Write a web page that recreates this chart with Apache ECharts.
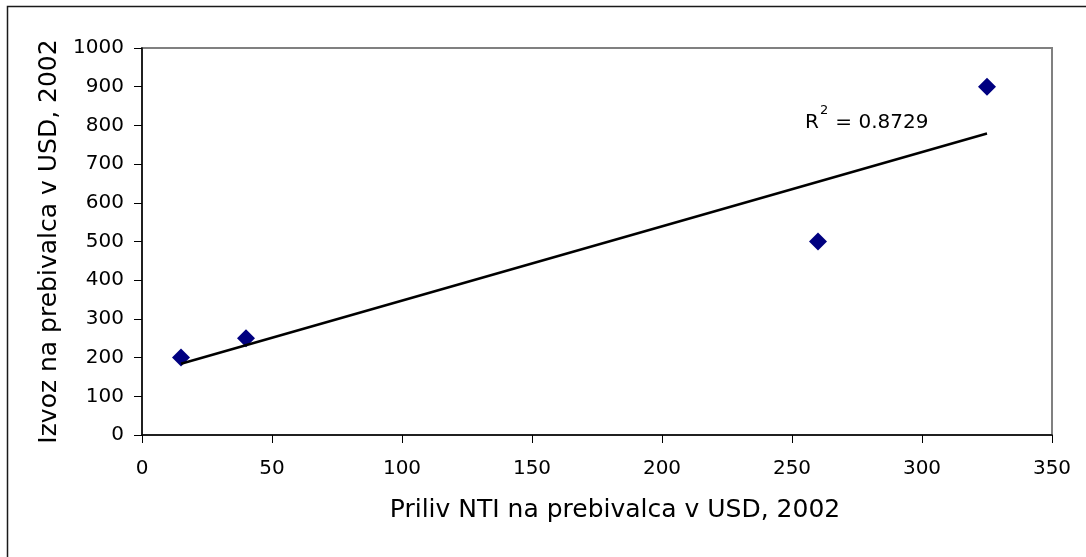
<!DOCTYPE html>
<html>
<head>
<meta charset="utf-8">
<script src="https://cdn.jsdelivr.net/npm/echarts@6/dist/echarts.min.js"></script>
<style>
html,body{margin:0;padding:0;background:#fff;}
#c{width:1086px;height:557px;}
</style>
</head>
<body>
<div id="c"></div>
<script>
// Data
const nti = [15, 40, 260, 325];            // Priliv NTI na prebivalca v USD, 2002
const izvoz = [200, 250, 500, 900];        // Izvoz na prebivalca v USD, 2002
const trendX = [15, 325];                  // linear trend line end points (x)
const trendY = [184, 779];                 // linear trend line end points (y)
const r2Text = '0.8729';
const xTicks = [0, 50, 100, 150, 200, 250, 300, 350];
const yTicks = [0, 100, 200, 300, 400, 500, 600, 700, 800, 900, 1000];

const FONT = 'DejaVu Sans';
const chart = echarts.init(document.getElementById('c'));

const points = nti.map((x, i) => [x, izvoz[i]]);
const trend = trendX.map((x, i) => [x, trendY[i]]);

chart.setOption({
  animation: false,
  backgroundColor: '#fff',
  textStyle: { fontFamily: FONT, color: '#000' },
  grid: {
    left: 142, right: 34, top: 48, bottom: 122,
    show: true, borderColor: '#808080', borderWidth: 2, backgroundColor: '#fff'
  },
  xAxis: {
    type: 'value',
    min: xTicks[0], max: xTicks[xTicks.length - 1], interval: 50,
    name: 'Priliv NTI na prebivalca v USD, 2002',
    nameLocation: 'middle', nameGap: 63,
    nameTextStyle: { fontFamily: FONT, fontSize: 25, color: '#000', padding: [0, 0, 0, 36] },
    axisLine: { show: true, lineStyle: { color: '#000', width: 1.5 } },
    axisTick: { show: true, length: 8, inside: false, lineStyle: { color: '#000', width: 1 } },
    axisLabel: { fontFamily: FONT, fontSize: 20, color: '#000', margin: 24, formatter: v => String(v) },
    splitLine: { show: false }
  },
  yAxis: {
    type: 'value',
    min: yTicks[0], max: yTicks[yTicks.length - 1], interval: 100,
    name: 'Izvoz na prebivalca v USD, 2002',
    nameLocation: 'middle', nameGap: 60, nameRotate: 90,
    nameTextStyle: { fontFamily: FONT, fontSize: 25, color: '#000' },
    axisLine: { show: true, lineStyle: { color: '#000', width: 1.5 } },
    axisTick: { show: true, length: 8, inside: false, lineStyle: { color: '#000', width: 1 } },
    axisLabel: { fontFamily: FONT, fontSize: 20, color: '#000', margin: 18, formatter: v => String(v) },
    splitLine: { show: false }
  },
  series: [
    {
      type: 'scatter',
      data: points,
      symbol: 'diamond',
      symbolSize: 18,
      itemStyle: { color: '#000080', opacity: 1 },
      z: 2
    },
    {
      type: 'line',
      data: trend,
      symbol: 'none',
      lineStyle: { color: '#000', width: 2.5 },
      z: 3
    }
  ],
  graphic: [
    {
      type: 'rect',
      shape: { x: 7.5, y: 6.5, width: 1200, height: 700 },
      style: { fill: 'none', stroke: '#1a1a1a', lineWidth: 1.5 },
      silent: true, z: 100
    },
    {
      type: 'group', left: 805, top: 104, z: 50,
      children: [
        { type: 'text', x: 0, y: 10, style: { text: 'R', font: '20px "DejaVu Sans"', fill: '#000' } },
        { type: 'text', x: 15, y: 1, style: { text: '2', font: '13px "DejaVu Sans"', fill: '#000' } },
        { type: 'text', x: 24, y: 10, style: { text: ' = ' + r2Text, font: '20px "DejaVu Sans"', fill: '#000' } }
      ]
    }
  ]
});
</script>
</body>
</html>
